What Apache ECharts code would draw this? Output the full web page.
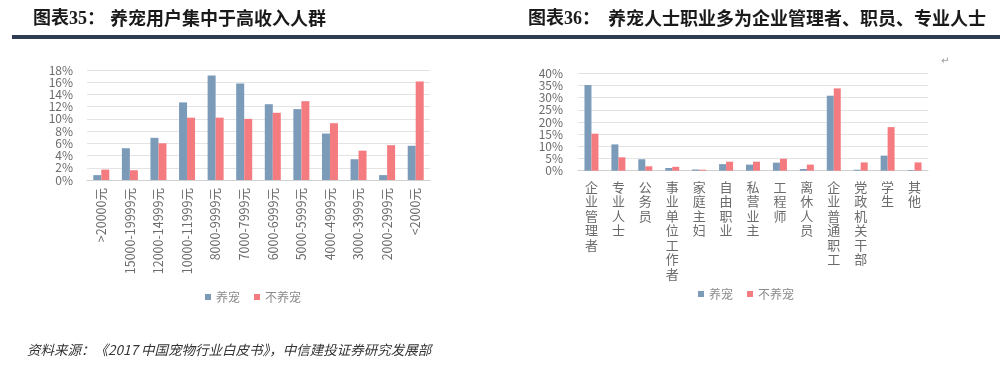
<!DOCTYPE html>
<html><head><meta charset="utf-8">
<script src="https://cdn.jsdelivr.net/npm/echarts@6/dist/echarts.min.js"></script>
<style>html,body{margin:0;padding:0;background:#fff;}#c{width:1008px;height:367px;}</style>
</head><body><div id="c"></div>
<script>
const incomeCats = ['>20000元','15000-19999元','12000-14999元','10000-11999元','8000-9999元','7000-7999元','6000-6999元','5000-5999元','4000-4999元','3000-3999元','2000-2999元','<2000元'];
const incomePet = [0.8,5.2,6.9,12.7,17.1,15.8,12.4,11.6,7.6,3.4,0.8,5.6];
const incomeNoPet = [1.7,1.6,6.0,10.2,10.2,10.0,11.0,12.9,9.3,4.8,5.7,16.1];
const jobCats = ['企业管理者','专业人士','公务员','事业单位工作者','家庭主妇','自由职业','私营业主','工程师','离休人员','企业普通职工','党政机关干部','学生','其他'];
const jobPet = [35.2,10.8,4.7,1.1,0.5,2.7,2.5,3.3,0.7,30.8,0.4,6.2,0.3];
const jobNoPet = [15.2,5.5,1.8,1.6,0.4,3.7,3.7,4.9,2.5,33.8,3.4,17.9,3.4];
const yTicksLeft = {min:0,max:18,interval:2};
const yTicksRight = {min:0,max:40,interval:5};

const BLUE = '#7b9bb9', RED = '#f47c80';
const FONT = '"Noto Sans CJK SC", "Open Sans", sans-serif';
const chart = echarts.init(document.getElementById('c'), null, {renderer:'canvas'});
const axisLabel = {color:'#6b6b6b', fontSize:12, lineHeight:11, fontFamily:FONT, showMinLabel:true, showMaxLabel:true, hideOverlap:false};
chart.setOption({
  animation:false,
  textStyle:{fontFamily:FONT},
  grid:[
    {left:87, right:578, top:70, bottom:187},
    {left:578, right:80, top:73.3, bottom:196.3}
  ],
  legend:[
    {data:['养宠','不养宠'], left:200, top:286, itemWidth:6, itemHeight:6, itemGap:14, icon:'rect',
     textStyle:{color:'#8a8a8a', fontSize:12, fontFamily:FONT}},
    {data:['养宠','不养宠'], left:693, top:283, itemWidth:6, itemHeight:6, itemGap:14, icon:'rect',
     textStyle:{color:'#8a8a8a', fontSize:12, fontFamily:FONT}}
  ],
  xAxis:[
    {type:'category', gridIndex:0, data:incomeCats, axisTick:{show:false},
     axisLine:{lineStyle:{color:'#d0d0d0'}},
     axisLabel:{rotate:90, margin:8, color:'#6b6b6b', fontSize:12.5, fontFamily:FONT, interval:0}},
    {type:'category', gridIndex:1, data:jobCats, axisTick:{show:false},
     axisLine:{lineStyle:{color:'#d0d0d0'}},
     axisLabel:{margin:9, color:'#6b6b6b', fontSize:13, lineHeight:14.5, fontFamily:FONT, interval:0,
       verticalAlign:'top', formatter:v=>v.split('').join('\n')}}
  ],
  yAxis:[
    {type:'value', gridIndex:0, min:yTicksLeft.min, max:yTicksLeft.max, interval:yTicksLeft.interval,
     axisLabel:Object.assign({formatter:'{value}%', margin:14}, axisLabel),
     splitLine:{lineStyle:{color:'#e3e3e3'}}, axisLine:{show:false}, axisTick:{show:false}},
    {type:'value', gridIndex:1, min:yTicksRight.min, max:yTicksRight.max, interval:yTicksRight.interval,
     axisLabel:Object.assign({formatter:'{value}%', margin:15}, axisLabel),
     splitLine:{lineStyle:{color:'#e3e3e3'}}, axisLine:{show:false}, axisTick:{show:false}}
  ],
  series:[
    {name:'养宠', type:'bar', xAxisIndex:0, yAxisIndex:0, data:incomePet, itemStyle:{color:BLUE}, barWidth:8, barGap:'0%'},
    {name:'不养宠', type:'bar', xAxisIndex:0, yAxisIndex:0, data:incomeNoPet, itemStyle:{color:RED}, barWidth:8, barGap:'0%'},
    {name:'养宠', type:'bar', xAxisIndex:1, yAxisIndex:1, data:jobPet, itemStyle:{color:BLUE}, barWidth:7, barGap:'0%'},
    {name:'不养宠', type:'bar', xAxisIndex:1, yAxisIndex:1, data:jobNoPet, itemStyle:{color:RED}, barWidth:7, barGap:'0%'}
  ],
  graphic:[
    {type:'text', left:33, top:10, style:{text:'图表35：', font:'bold 18px "Liberation Serif", "Noto Sans CJK SC", serif', fill:'#1a1a1a'}},
    {type:'text', left:110, top:9, style:{text:'养宠用户集中于高收入人群', font:'bold 18px "Noto Sans CJK SC", sans-serif', fill:'#1a1a1a'}},
    {type:'text', left:528, top:10, style:{text:'图表36：', font:'bold 18px "Liberation Serif", "Noto Sans CJK SC", serif', fill:'#1a1a1a'}},
    {type:'text', left:608, top:9, style:{text:'养宠人士职业多为企业管理者、职员、专业人士', font:'bold 18px "Noto Sans CJK SC", sans-serif', fill:'#1a1a1a'}},
    {type:'rect', shape:{x:12, y:35, width:988, height:4}, style:{fill:'#2d3c52'}},
    {type:'text', left:941, top:56, style:{text:'↵', font:'10px "DejaVu Sans"', fill:'#999'}},
    {type:'text', left:27, top:343, style:{text:'资料来源：《2017 中国宠物行业白皮书》，中信建投证券研究发展部', font:'italic 13.5px "Noto Sans CJK SC", sans-serif', fill:'#333'}}
  ]
});
</script></body></html>
